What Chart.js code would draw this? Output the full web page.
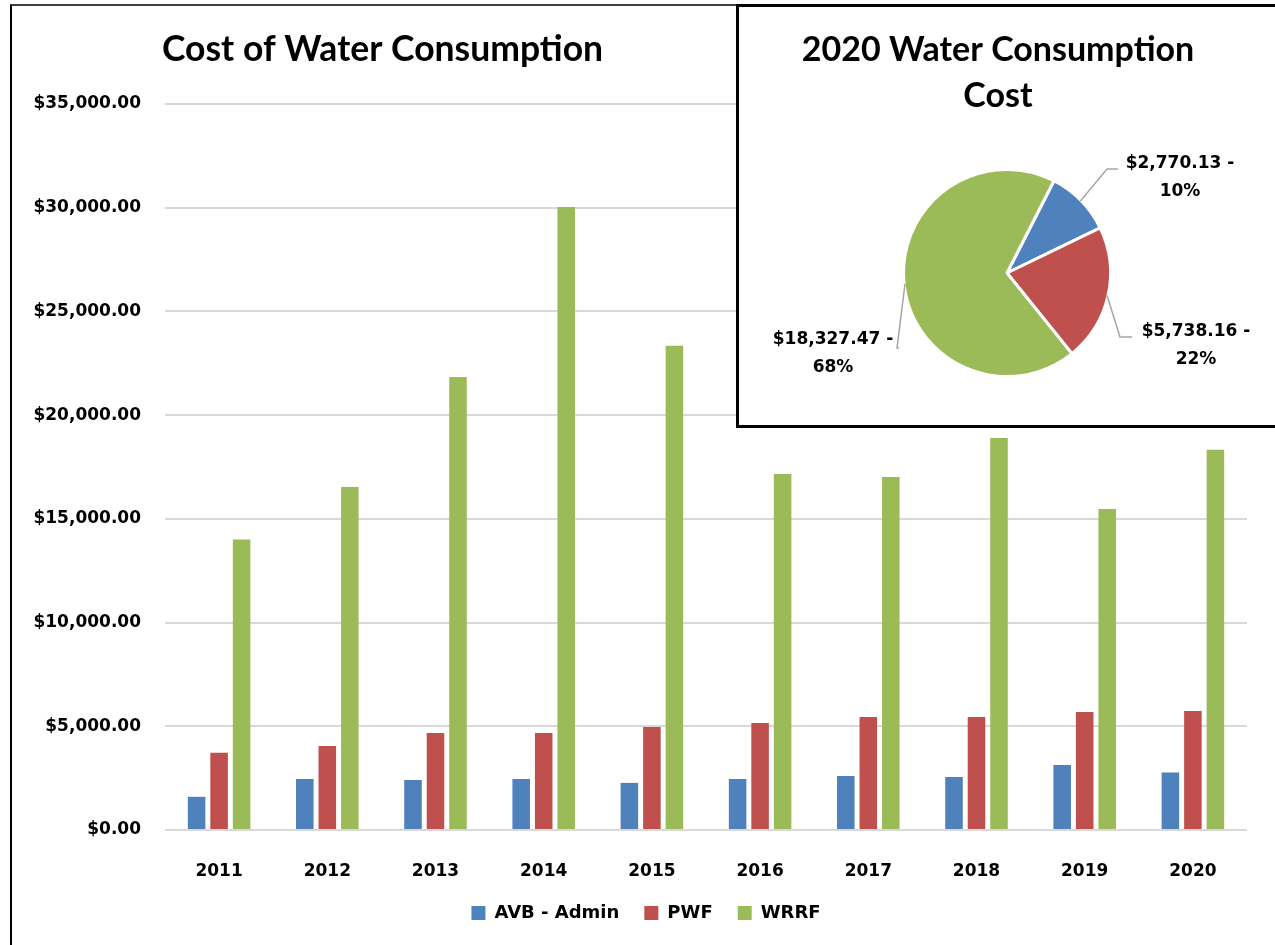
<!DOCTYPE html>
<html>
<head>
<meta charset="utf-8">
<script src="https://cdn.jsdelivr.net/npm/chart.js@4.4.1/dist/chart.umd.min.js"></script>
<style>
  html, body { margin: 0; padding: 0; background: #fff; }
  #wrap { position: relative; width: 1275px; height: 945px; overflow: hidden; }
  #bar { position: absolute; left: 0; top: 0; }
  #frame { position: absolute; left: 10px; top: 4px; width: 1400px; height: 1000px;
           border-left: 2px solid #000; border-top: 2px solid #404040; }
  #pie-box { position: absolute; left: 736px; top: 4px; width: 560px; height: 424px;
             box-sizing: border-box; border: 3px solid #000; background: #fff; }
  #pie { position: absolute; left: 737px; top: 7px; }
</style>
</head>
<body>
<div id="wrap">
  <canvas id="bar" width="1275" height="945"></canvas>
  <div id="frame"></div>
  <div id="pie-box"></div>
  <canvas id="pie" width="538" height="418"></canvas>
</div>
<script>
(function () {

  /* ── ข้อมูล ── */
  const years = ['2011', '2012', '2013', '2014', '2015', '2016', '2017', '2018', '2019', '2020'];
  const avbAdmin = [1600, 2460, 2410, 2460, 2270, 2460, 2600, 2560, 3130, 2770.13];
  const pwf      = [3720, 4050, 4680, 4680, 4970, 5160, 5450, 5450, 5690, 5738.16];
  const wrrf     = [14000, 16540, 21840, 30040, 23340, 17160, 17020, 18900, 15480, 18327.47];
  const seriesNames = ['AVB - Admin', 'PWF', 'WRRF'];
  const yMax = 35000, yStep = 5000;

  const COLORS = ['#4F81BD', '#C0504D', '#9BBB59'];
  const TICK_FONT = 'DejaVu Sans';
  const TITLE_FONT = 'Lato';

  function money(v) {
    return '$' + Number(v).toLocaleString('en-US', { minimumFractionDigits: 2, maximumFractionDigits: 2 });
  }

  /* ── กราฟแท่ง ── */
  const barTitle = {
    id: 'barTitle',
    afterDraw: function (chart) {
      const ctx = chart.ctx;
      ctx.save();
      ctx.fillStyle = '#000';
      ctx.font = 'bold 35.5px ' + TITLE_FONT;
      ctx.textBaseline = 'middle';
      ctx.textAlign = 'left';
      ctx.fillText('Cost of Water Consumption', chart.chartArea.left - 3, 50);
      ctx.restore();
    }
  };

  new Chart(document.getElementById('bar'), {
    type: 'bar',
    data: {
      labels: years,
      datasets: [avbAdmin, pwf, wrrf].map(function (d, i) {
        return { label: seriesNames[i], data: d, backgroundColor: COLORS[i],
                 categoryPercentage: 0.624, barPercentage: 0.78 };
      })
    },
    options: {
      responsive: false,
      animation: false,
      layout: { padding: { left: 24, right: 7, top: 104, bottom: 13 } },
      plugins: {
        legend: {
          position: 'bottom',
          labels: { boxWidth: 14, boxHeight: 14, padding: 25, color: '#000',
                    font: { family: TICK_FONT, weight: 'bold', size: 18 } }
        },
        tooltip: { enabled: false }
      },
      scales: {
        x: {
          grid: { display: false },
          border: { display: false },
          ticks: { color: '#000', padding: 23, font: { family: TICK_FONT, weight: 'bold', size: 17 } },
          afterFit: function (s) { s.height = 49; }
        },
        y: {
          min: 0, max: yMax,
          grid: { color: '#d9d9d9', lineWidth: 2, drawTicks: false },
          border: { display: false },
          ticks: { stepSize: yStep, color: '#000', padding: 24,
                   font: { family: TICK_FONT, weight: 'bold', size: 17 },
                   callback: function (v) { return money(v); } },
          afterFit: function (s) { s.width = 141; }
        },
        // แกนว่างด้านขวา ใช้เว้นระยะให้พื้นที่กราฟตรงกับต้นฉบับ
        yr: {
          position: 'right', min: 0, max: yMax,
          grid: { display: false }, border: { display: false }, ticks: { display: false },
          afterFit: function (s) { s.width = 21; }
        }
      }
    },
    plugins: [barTitle]
  });

  /* ── กราฟวงกลม ปี 2020 ── */
  const pieValues = [avbAdmin[9], pwf[9], wrrf[9]];
  const pieTotal = pieValues.reduce(function (a, b) { return a + b; }, 0);

  // ปัดเปอร์เซ็นต์ให้รวมได้ 100 (แบบเดียวกับป้ายในรูป)
  const rawPct = pieValues.map(function (v) { return v / pieTotal * 100; });
  const pct = rawPct.map(Math.floor);
  let left = 100 - pct.reduce(function (a, b) { return a + b; }, 0);
  rawPct.map(function (p, i) { return { i: i, r: p - Math.floor(p) }; })
    .sort(function (a, b) { return b.r - a.r; })
    .forEach(function (o) { if (left > 0) { pct[o.i]++; left--; } });

  // ตำแหน่งป้ายและเส้นชี้ (เทียบกับจุดศูนย์กลางวงกลม)
  const LABEL_POS = [
    { tx: 173, ty: -109, elbow: [100, -104], end: [111, -104] },
    { tx: 189, ty: 59,   elbow: [113, 64],   end: [125, 64] },
    { tx: -174, ty: 67,  elbow: [-110, 75],  end: [-108, 75] }
  ];

  const pieDecor = {
    id: 'pieDecor',
    afterDraw: function (chart) {
      const ctx = chart.ctx;
      const meta = chart.getDatasetMeta(0);
      ctx.save();
      ctx.fillStyle = '#000';
      ctx.textAlign = 'center';
      ctx.textBaseline = 'middle';
      ctx.font = 'bold 34px ' + TITLE_FONT;
      ctx.fillText('2020 Water Consumption', 261, 43);
      ctx.fillText('Cost', 261, 89);

      ctx.font = 'bold 17px ' + TICK_FONT;
      meta.data.forEach(function (arc, i) {
        const p = LABEL_POS[i];
        const mid = (arc.startAngle + arc.endAngle) / 2;
        const r = arc.outerRadius;
        ctx.strokeStyle = '#a6a6a6';
        ctx.lineWidth = 1.5;
        ctx.beginPath();
        ctx.moveTo(arc.x + Math.cos(mid) * (r - 1), arc.y + Math.sin(mid) * (r - 1));
        ctx.lineTo(arc.x + p.elbow[0], arc.y + p.elbow[1]);
        ctx.lineTo(arc.x + p.end[0], arc.y + p.end[1]);
        ctx.stroke();
        ctx.fillText(money(pieValues[i]) + ' -', arc.x + p.tx, arc.y + p.ty);
        ctx.fillText(pct[i] + '%', arc.x + p.tx, arc.y + p.ty + 28);
      });
      ctx.restore();
    }
  };

  new Chart(document.getElementById('pie'), {
    type: 'pie',
    data: {
      labels: seriesNames,
      datasets: [{ data: pieValues, backgroundColor: COLORS, borderColor: '#fff', borderWidth: 3,
                   hoverOffset: 0 }]
    },
    options: {
      responsive: false,
      animation: false,
      rotation: 27,
      layout: { padding: { left: 165, right: 163, top: 161, bottom: 47 } },
      plugins: { legend: { display: false }, tooltip: { enabled: false } }
    },
    plugins: [pieDecor]
  });

})();
</script>
</body>
</html>
